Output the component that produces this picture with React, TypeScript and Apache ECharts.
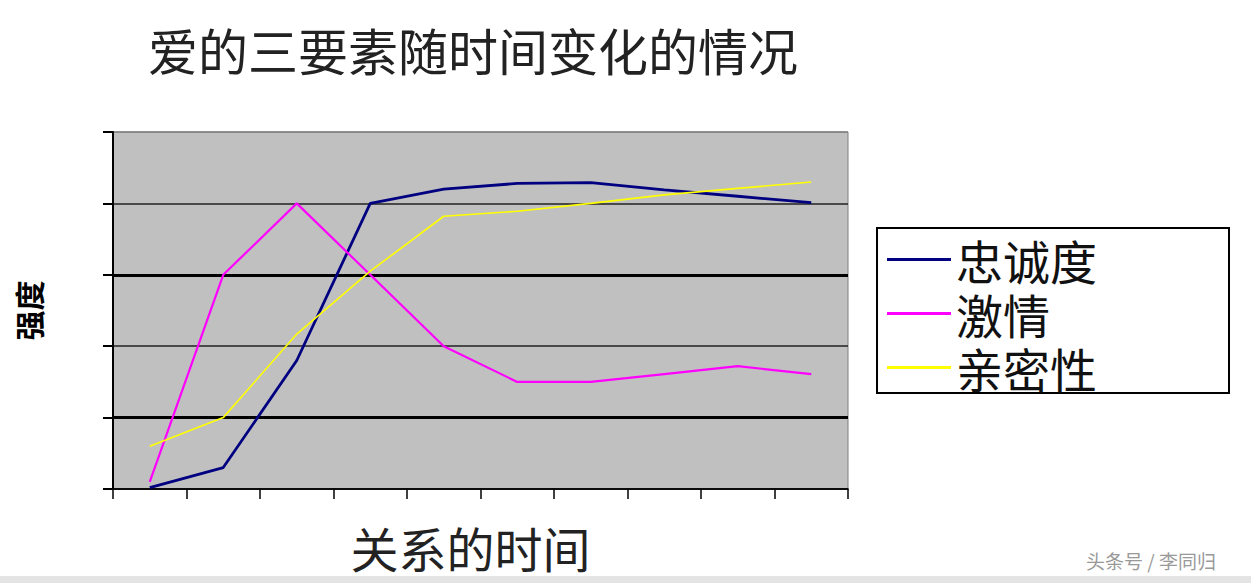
import { useEffect, useRef } from 'react';
import * as echarts from 'echarts';

const TIME_POINTS = ['1', '2', '3', '4', '5', '6', '7', '8', '9', '10'];
const LOYALTY = [0.02, 0.3, 1.8, 4.0, 4.2, 4.28, 4.29, 4.19, 4.1, 4.01];
const PASSION = [0.1, 3.0, 4.0, 3.0, 2.0, 1.5, 1.5, 1.61, 1.72, 1.61];
const INTIMACY = [0.6, 1.0, 2.17, 3.05, 3.82, 3.89, 4.0, 4.12, 4.21, 4.3];
const THICK_LINES = [1, 3];

const FONT = '"Noto Sans CJK SC", sans-serif';

export default function App() {
  const chartRef = useRef<HTMLDivElement>(null);

  useEffect(() => {
    if (!chartRef.current) return;
    document.body.style.margin = '0';
    const chart = echarts.init(chartRef.current, undefined, { renderer: 'svg' });

    const option: echarts.EChartsOption = {
      animation: false,
      backgroundColor: '#ffffff',
      textStyle: { fontFamily: FONT },
      title: {
        text: '爱的三要素随时间变化的情况',
        left: 148,
        top: 24,
        padding: 0,
        textStyle: { fontSize: 50, fontWeight: 'normal', color: '#222', fontFamily: FONT },
      },
      legend: {
        orient: 'vertical',
        left: 877,
        top: 228,
        padding: [8, 132, 2, 10],
        itemGap: 7,
        itemWidth: 64,
        itemHeight: 3,
        icon: 'rect',
        borderColor: '#000',
        borderWidth: 2,
        borderRadius: 0,
        backgroundColor: '#fff',
        textStyle: { fontSize: 47, lineHeight: 47, color: '#111', fontFamily: FONT },
        data: ['忠诚度', '激情', '亲密性'],
      },
      grid: {
        left: 113,
        top: 132,
        width: 735,
        height: 357,
        outerBoundsMode: 'none',
        show: true,
        backgroundColor: '#c0c0c0',
        borderColor: '#808080',
        borderWidth: 1,
      } as any,
      xAxis: {
        type: 'category',
        data: TIME_POINTS,
        boundaryGap: true,
        name: '关系的时间',
        nameLocation: 'middle',
        nameGap: 34,
        nameTextStyle: { fontSize: 48, color: '#222', fontFamily: FONT, padding: [0, 20, 0, 0] },
        axisLine: { lineStyle: { color: '#000', width: 1.5 } },
        axisTick: { show: true, alignWithLabel: false, length: 10, lineStyle: { color: '#000', width: 1.5 } },
        axisLabel: { show: false },
        splitLine: { show: false },
      },
      yAxis: {
        type: 'value',
        min: 0,
        max: 5,
        interval: 1,
        name: '强度',
        nameLocation: 'middle',
        nameRotate: 90,
        nameGap: 70,
        nameTextStyle: { fontSize: 30, fontWeight: 'bold', color: '#000', fontFamily: FONT },
        axisLine: { show: true, lineStyle: { color: '#000', width: 2 } },
        axisTick: { show: true, length: 10, lineStyle: { color: '#000', width: 2 } },
        axisLabel: { show: false },
        splitLine: {
          show: true,
          lineStyle: { color: ['#000', '#111', '#222', '#111', '#222', '#808080'], width: 1.5 },
        },
      },
      series: [
        {
          name: '忠诚度',
          type: 'line',
          data: LOYALTY,
          symbol: 'none',
          lineStyle: { color: '#000080', width: 2.8 },
          itemStyle: { color: '#000080' },
          markLine: {
            silent: true,
            z: 1,
            symbol: 'none',
            label: { show: false },
            lineStyle: { color: '#000', width: 3, type: 'solid' },
            data: THICK_LINES.map((v) => ({ yAxis: v })),
          },
        },
        {
          name: '激情',
          type: 'line',
          data: PASSION,
          symbol: 'none',
          lineStyle: { color: '#ff00ff', width: 2.2 },
          itemStyle: { color: '#ff00ff' },
        },
        {
          name: '亲密性',
          type: 'line',
          data: INTIMACY,
          symbol: 'none',
          lineStyle: { color: '#ffff00', width: 1.6 },
          itemStyle: { color: '#ffff00' },
        },
      ],
      graphic: [
        {
          type: 'rect',
          left: 0,
          top: 576,
          shape: { width: 1251, height: 7 },
          style: { fill: '#e4e4e4' },
          silent: true,
        },
        {
          type: 'text',
          left: 1086,
          top: 551,
          style: { text: '头条号 / 李同归', fontSize: 19, fill: '#999', fontFamily: FONT },
          silent: true,
        },
      ],
    };

    chart.setOption(option);

    return () => {
      chart.dispose();
    };
  }, []);

  return <div ref={chartRef} style={{ width: '1251px', height: '583px' }} />;
}
